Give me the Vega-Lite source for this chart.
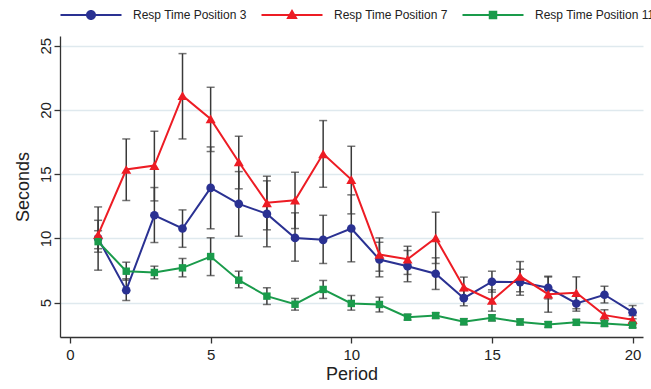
{
  "$schema": "https://vega.github.io/schema/vega-lite/v6.json",
  "width": 583,
  "height": 301,
  "autosize": {"type": "none"},
  "padding": {"left": 60, "top": 36, "right": 8, "bottom": 52},
  "background": "white",
  "config": {
    "view": {"stroke": null},
    "font": "Liberation Sans",
    "axis": {
      "labelFont": "Liberation Sans",
      "titleFont": "Liberation Sans",
      "labelColor": "#222222",
      "titleColor": "#222222",
      "domainColor": "#333333",
      "tickColor": "#333333",
      "domainWidth": 1.3,
      "tickWidth": 1.3,
      "tickSize": 6,
      "labelFontSize": 15,
      "titleFontSize": 18,
      "titleFontWeight": "normal"
    },
    "legend": {
      "labelFont": "Liberation Sans",
      "labelFontSize": 12,
      "labelColor": "#222222"
    }
  },
  "data": {
    "values": [
      {"period": 1, "series": "Resp Time Position 3", "mean": 10.0, "lo": 7.53, "hi": 12.45},
      {"period": 2, "series": "Resp Time Position 3", "mean": 5.97, "lo": 5.17, "hi": 6.86},
      {"period": 3, "series": "Resp Time Position 3", "mean": 11.8, "lo": 9.68, "hi": 13.96},
      {"period": 4, "series": "Resp Time Position 3", "mean": 10.77, "lo": 9.31, "hi": 12.22},
      {"period": 5, "series": "Resp Time Position 3", "mean": 13.93, "lo": 10.75, "hi": 17.12},
      {"period": 6, "series": "Resp Time Position 3", "mean": 12.69, "lo": 10.17, "hi": 15.2},
      {"period": 7, "series": "Resp Time Position 3", "mean": 11.91, "lo": 9.35, "hi": 14.48},
      {"period": 8, "series": "Resp Time Position 3", "mean": 10.04, "lo": 8.23, "hi": 11.99},
      {"period": 9, "series": "Resp Time Position 3", "mean": 9.89, "lo": 8.05, "hi": 11.8},
      {"period": 10, "series": "Resp Time Position 3", "mean": 10.77, "lo": 8.18, "hi": 13.39},
      {"period": 11, "series": "Resp Time Position 3", "mean": 8.36, "lo": 7.01, "hi": 9.7},
      {"period": 12, "series": "Resp Time Position 3", "mean": 7.84, "lo": 6.63, "hi": 9.06},
      {"period": 13, "series": "Resp Time Position 3", "mean": 7.25, "lo": 6.03, "hi": 8.49},
      {"period": 14, "series": "Resp Time Position 3", "mean": 5.35, "lo": 4.76, "hi": 5.95},
      {"period": 15, "series": "Resp Time Position 3", "mean": 6.63, "lo": 5.82, "hi": 7.45},
      {"period": 16, "series": "Resp Time Position 3", "mean": 6.6, "lo": 5.58, "hi": 7.6},
      {"period": 17, "series": "Resp Time Position 3", "mean": 6.16, "lo": 5.3, "hi": 7.0},
      {"period": 18, "series": "Resp Time Position 3", "mean": 4.94, "lo": 4.34, "hi": 5.54},
      {"period": 19, "series": "Resp Time Position 3", "mean": 5.62, "lo": 4.98, "hi": 6.28},
      {"period": 20, "series": "Resp Time Position 3", "mean": 4.26, "lo": 3.75, "hi": 4.78},
      {"period": 1, "series": "Resp Time Position 7", "mean": 10.3, "lo": 9.2, "hi": 11.41},
      {"period": 2, "series": "Resp Time Position 7", "mean": 15.36, "lo": 12.95, "hi": 17.74},
      {"period": 3, "series": "Resp Time Position 7", "mean": 15.67, "lo": 12.92, "hi": 18.34},
      {"period": 4, "series": "Resp Time Position 7", "mean": 21.11, "lo": 17.74, "hi": 24.38},
      {"period": 5, "series": "Resp Time Position 7", "mean": 19.3, "lo": 16.76, "hi": 21.76},
      {"period": 6, "series": "Resp Time Position 7", "mean": 15.95, "lo": 13.86, "hi": 17.95},
      {"period": 7, "series": "Resp Time Position 7", "mean": 12.77, "lo": 10.67, "hi": 14.84},
      {"period": 8, "series": "Resp Time Position 7", "mean": 12.97, "lo": 10.77, "hi": 15.15},
      {"period": 9, "series": "Resp Time Position 7", "mean": 16.58, "lo": 13.98, "hi": 19.17},
      {"period": 10, "series": "Resp Time Position 7", "mean": 14.58, "lo": 11.91, "hi": 17.17},
      {"period": 11, "series": "Resp Time Position 7", "mean": 8.75, "lo": 7.45, "hi": 10.04},
      {"period": 12, "series": "Resp Time Position 7", "mean": 8.38, "lo": 7.2, "hi": 9.39},
      {"period": 13, "series": "Resp Time Position 7", "mean": 10.04, "lo": 8.05, "hi": 12.04},
      {"period": 14, "series": "Resp Time Position 7", "mean": 6.21, "lo": 5.45, "hi": 6.99},
      {"period": 15, "series": "Resp Time Position 7", "mean": 5.17, "lo": 4.34, "hi": 6.0},
      {"period": 16, "series": "Resp Time Position 7", "mean": 7.05, "lo": 5.85, "hi": 8.2},
      {"period": 17, "series": "Resp Time Position 7", "mean": 5.66, "lo": 4.26, "hi": 7.06},
      {"period": 18, "series": "Resp Time Position 7", "mean": 5.77, "lo": 4.53, "hi": 7.01},
      {"period": 19, "series": "Resp Time Position 7", "mean": 4.03, "lo": 3.64, "hi": 4.45},
      {"period": 20, "series": "Resp Time Position 7", "mean": 3.67, "lo": 3.3, "hi": 4.0},
      {"period": 1, "series": "Resp Time Position 11", "mean": 9.75, "lo": 8.93, "hi": 10.6},
      {"period": 2, "series": "Resp Time Position 11", "mean": 7.45, "lo": 6.75, "hi": 8.15},
      {"period": 3, "series": "Resp Time Position 11", "mean": 7.35, "lo": 6.86, "hi": 7.84},
      {"period": 4, "series": "Resp Time Position 11", "mean": 7.71, "lo": 7.01, "hi": 8.44},
      {"period": 5, "series": "Resp Time Position 11", "mean": 8.59, "lo": 7.11, "hi": 10.05},
      {"period": 6, "series": "Resp Time Position 11", "mean": 6.75, "lo": 6.16, "hi": 7.45},
      {"period": 7, "series": "Resp Time Position 11", "mean": 5.51, "lo": 4.86, "hi": 6.16},
      {"period": 8, "series": "Resp Time Position 11", "mean": 4.88, "lo": 4.42, "hi": 5.33},
      {"period": 9, "series": "Resp Time Position 11", "mean": 6.03, "lo": 5.33, "hi": 6.73},
      {"period": 10, "series": "Resp Time Position 11", "mean": 4.94, "lo": 4.42, "hi": 5.56},
      {"period": 11, "series": "Resp Time Position 11", "mean": 4.86, "lo": 4.28, "hi": 5.43},
      {"period": 12, "series": "Resp Time Position 11", "mean": 3.87, "lo": 3.65, "hi": 4.1},
      {"period": 13, "series": "Resp Time Position 11", "mean": 4.0, "lo": 3.78, "hi": 4.22},
      {"period": 14, "series": "Resp Time Position 11", "mean": 3.52, "lo": 3.28, "hi": 3.76},
      {"period": 15, "series": "Resp Time Position 11", "mean": 3.82, "lo": 3.58, "hi": 4.06},
      {"period": 16, "series": "Resp Time Position 11", "mean": 3.5, "lo": 3.27, "hi": 3.73},
      {"period": 17, "series": "Resp Time Position 11", "mean": 3.3, "lo": 3.08, "hi": 3.52},
      {"period": 18, "series": "Resp Time Position 11", "mean": 3.47, "lo": 3.25, "hi": 3.69},
      {"period": 19, "series": "Resp Time Position 11", "mean": 3.38, "lo": 3.16, "hi": 3.6},
      {"period": 20, "series": "Resp Time Position 11", "mean": 3.25, "lo": 3.05, "hi": 3.45}
    ]
  },
  "encoding": {
    "x": {
      "field": "period",
      "type": "quantitative",
      "scale": {"domain": [-0.355, 20.37], "nice": false, "zero": false},
      "axis": {"values": [0, 5, 10, 15, 20], "grid": false, "title": "Period", "labelPadding": 4, "titlePadding": 3, "labelFlush": false}
    }
  },
  "layer": [
    {
      "mark": {"type": "rule", "color": "#3a3a3a", "strokeWidth": 1.5},
      "encoding": {
        "y": {
          "field": "lo",
          "type": "quantitative",
          "scale": {"domain": [2.33, 25.75], "nice": false, "zero": false},
          "axis": {
            "values": [5, 10, 15, 20, 25],
            "grid": true,
            "gridColor": "#dfe9ee",
            "gridWidth": 1.5,
            "title": "Seconds",
            "labelAngle": -90,
            "labelAlign": "center",
            "labelBaseline": "alphabetic",
            "labelPadding": 4,
            "titlePadding": 6,
            "labelFlush": false
          }
        },
        "y2": {"field": "hi"}
      }
    },
    {
      "mark": {"type": "tick", "orient": "horizontal", "size": 8, "thickness": 1.5, "color": "#3a3a3a"},
      "encoding": {"y": {"field": "lo", "type": "quantitative"}}
    },
    {
      "mark": {"type": "tick", "orient": "horizontal", "size": 8, "thickness": 1.5, "color": "#3a3a3a"},
      "encoding": {"y": {"field": "hi", "type": "quantitative"}}
    },
    {
      "mark": {"type": "line", "strokeWidth": 2, "opacity": 1},
      "encoding": {
        "y": {"field": "mean", "type": "quantitative"},
        "color": {
          "field": "series",
          "type": "nominal",
          "scale": {
            "domain": ["Resp Time Position 3", "Resp Time Position 7", "Resp Time Position 11"],
            "range": ["#2a3192", "#ed1c24", "#1a9b4b"]
          },
          "legend": {
            "title": null,
            "orient": "none",
            "legendX": 0,
            "legendY": -27,
            "direction": "horizontal",
            "symbolSize": 100,
            "symbolStrokeWidth": 0,
            "symbolOpacity": 1,
            "symbolOffset": 25,
            "labelOffset": 36,
            "columnPadding": 14,
            "padding": 0
          }
        }
      }
    },
    {
      "mark": {"type": "point", "filled": true, "size": 0, "opacity": 1, "fillOpacity": 1},
      "encoding": {
        "y": {"field": "mean", "type": "quantitative"},
        "color": {
          "field": "series",
          "type": "nominal",
          "scale": {
            "domain": ["Resp Time Position 3", "Resp Time Position 7", "Resp Time Position 11"],
            "range": ["#2a3192", "#ed1c24", "#1a9b4b"]
          },
          "legend": {
            "title": null,
            "orient": "none",
            "legendX": 0,
            "legendY": -27,
            "direction": "horizontal",
            "symbolSize": 100,
            "symbolStrokeWidth": 0,
            "symbolOpacity": 1,
            "symbolOffset": 25,
            "labelOffset": 36,
            "columnPadding": 14,
            "padding": 0
          }
        },
        "shape": {
          "field": "series",
          "type": "nominal",
          "scale": {
            "domain": ["Resp Time Position 3", "Resp Time Position 7", "Resp Time Position 11"],
            "range": [
              "M-6.1,-0.2H-0.9V0.2H-6.1Z M0.9,-0.2H6.1V0.2H0.9Z M1,0A1,1 0 1,1 -1,0A1,1 0 1,1 1,0Z",
              "M-6.1,-0.2H-0.6V0.2H-6.1Z M0.6,-0.2H6.1V0.2H0.6Z M0,-1.2L1.15,0.8H-1.15Z",
              "M-6.1,-0.2H-0.5V0.2H-6.1Z M0.5,-0.2H6.1V0.2H0.5Z M-0.85,-0.85H0.85V0.85H-0.85Z"
            ]
          }
        }
      }
    },
    {
      "transform": [{"filter": "datum.series === 'Resp Time Position 3'"}],
      "mark": {"type": "point", "shape": "circle", "filled": true, "opacity": 1, "size": 75, "color": "#2a3192"},
      "encoding": {"y": {"field": "mean", "type": "quantitative"}}
    },
    {
      "transform": [{"filter": "datum.series === 'Resp Time Position 7'"}],
      "mark": {"type": "point", "shape": "triangle-up", "filled": true, "opacity": 1, "size": 100, "color": "#ed1c24"},
      "encoding": {"y": {"field": "mean", "type": "quantitative"}}
    },
    {
      "transform": [{"filter": "datum.series === 'Resp Time Position 11'"}],
      "mark": {"type": "point", "shape": "square", "filled": true, "opacity": 1, "size": 55, "color": "#1a9b4b"},
      "encoding": {"y": {"field": "mean", "type": "quantitative"}}
    }
  ]
}
